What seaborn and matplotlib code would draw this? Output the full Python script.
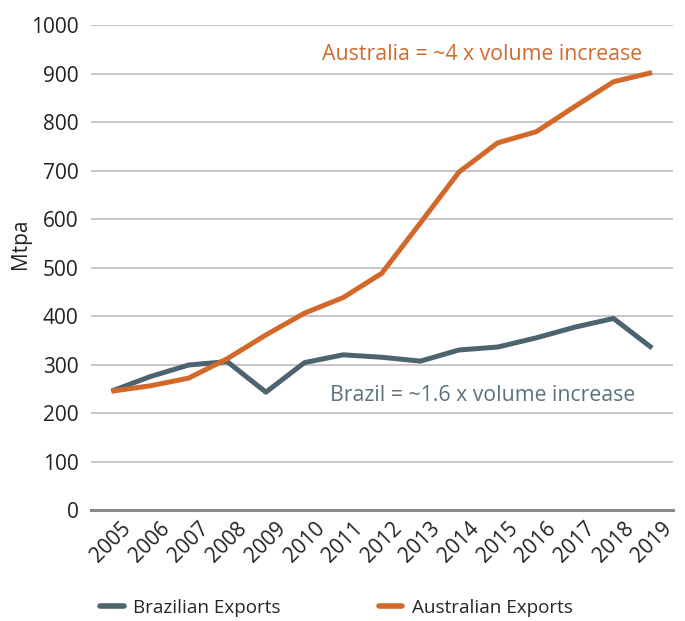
import matplotlib
matplotlib.use("Agg")
import matplotlib.pyplot as plt
import seaborn as sns
import pandas as pd

# Export volumes (Mtpa)
years = list(range(2005, 2020))
brazil = [245, 275, 299, 306, 243, 304, 320, 315, 307, 330, 336, 355, 377, 395, 334]
australia = [245, 256, 272, 312, 361, 406, 438, 488, 592, 697, 757, 780, 832, 883, 902]

series_names = ["Brazilian Exports", "Australian Exports"]
colors = {"Brazilian Exports": "#4D6470", "Australian Exports": "#D2692A"}

df = pd.DataFrame({
    "year": years * 2,
    "Mtpa": brazil + australia,
    "series": [series_names[0]] * len(years) + [series_names[1]] * len(years),
})

sns.set_style("white")
plt.rcParams["font.family"] = ["Open Sans", "DejaVu Sans"]

fig = plt.figure(figsize=(6.85, 6.21), dpi=100)
ax = fig.add_axes([0.1328, 0.1787, 0.8496, 0.781])

sns.lineplot(data=df, x="year", y="Mtpa", hue="series", hue_order=series_names,
             palette=colors, linewidth=3.6, ax=ax, legend=False,
             solid_joinstyle="round", solid_capstyle="butt", zorder=3)

ax.set_xlim(2004.47, 2019.54)
ax.set_ylim(0, 1000)
ax.set_yticks(range(0, 1001, 100))
ax.set_xticks(years)
ax.set_xticklabels([str(y) for y in years], rotation=45, fontsize=15, color="#222222")
ax.tick_params(axis="y", labelsize=15, labelcolor="#222222", length=0, pad=9)
ax.tick_params(axis="x", length=0, pad=6)

ax.grid(axis="y", color="#BDBDBD", linewidth=1.2, zorder=0)
ax.grid(axis="x", visible=False)
for side in ["top", "right", "left"]:
    ax.spines[side].set_visible(False)
ax.spines["bottom"].set_color("#8A8A8A")
ax.spines["bottom"].set_linewidth(2.2)

ax.set_xlabel("")
ax.set_ylabel("Mtpa", fontsize=15, color="#222222", labelpad=0, y=0.55)

ax.text(2014.6, 940, "Australia = ~4 x volume increase", ha="center", va="center",
        fontsize=15.3, color="#D2692A")
ax.text(2014.6, 237, "Brazil = ~1.6 x volume increase", ha="center", va="center",
        fontsize=15.3, color="#5B717D")

handles = [plt.Line2D([], [], color=colors[n], linewidth=4) for n in series_names]
fig.legend(handles, series_names, loc="center left", bbox_to_anchor=(100 / 685, 1 - 608 / 621),
           ncol=2, frameon=False, fontsize=13.6, handlelength=1.25, handletextpad=0.5,
           columnspacing=5.2, borderpad=0, borderaxespad=0)

fig.savefig("out.png", dpi=100)
